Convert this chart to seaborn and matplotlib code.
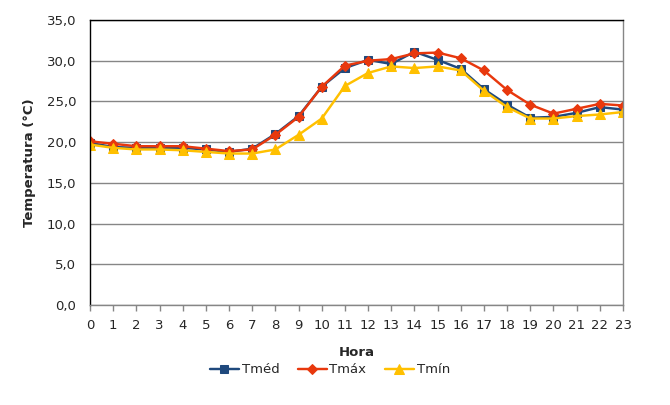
import matplotlib
matplotlib.use("Agg")
import matplotlib.pyplot as plt
import seaborn as sns
import pandas as pd

hours = list(range(24))
t_med = [19.9, 19.4, 19.3, 19.3, 19.3, 19.1, 18.8, 19.2, 21.0, 23.2, 26.8, 29.1,
         30.1, 29.6, 31.1, 30.1, 29.0, 26.5, 24.6, 23.0, 23.1, 23.6, 24.3, 24.0]
t_max = [20.1, 19.8, 19.5, 19.5, 19.5, 19.2, 18.9, 19.1, 20.9, 23.1, 26.8, 29.4,
         30.0, 30.2, 30.9, 31.0, 30.3, 28.8, 26.4, 24.6, 23.5, 24.1, 24.7, 24.5]
t_min = [19.7, 19.3, 19.1, 19.1, 19.0, 18.8, 18.6, 18.6, 19.1, 20.9, 22.9, 26.9,
         28.5, 29.3, 29.1, 29.3, 28.8, 26.3, 24.3, 22.9, 22.9, 23.2, 23.4, 23.7]

series = ["Tméd", "Tmáx", "Tmín"]
colors = ["#1F497D", "#E8380D", "#FFC000"]
markers = ["s", "D", "^"]
msizes = [5.5, 5.5, 7]

df = pd.DataFrame({"Hora": hours, "Tméd": t_med, "Tmáx": t_max, "Tmín": t_min})
long = df.melt(id_vars="Hora", var_name="serie", value_name="temp")

sns.set_style("white")
plt.rcParams["font.family"] = ["DejaVu Sans"]

fig = plt.figure(figsize=(6.7, 4.05), dpi=100)
ax = fig.add_axes([90 / 670, 1 - 305 / 405, (623 - 90) / 670, 285 / 405])

for name, c, m, ms in zip(series, colors, markers, msizes):
    sub = long[long.serie == name]
    sns.lineplot(data=sub, x="Hora", y="temp", ax=ax, color=c, marker=m,
                 markersize=ms, markeredgecolor=c, linewidth=1.75, label=name)

ax.set_xlim(0, 23)
ax.set_ylim(0, 35)
ax.set_xticks(hours)
ax.set_yticks(range(0, 36, 5))
ax.set_yticklabels([f"{v:.1f}".replace(".", ",") for v in range(0, 36, 5)])
ax.yaxis.grid(True, color="#868686", linewidth=1)
ax.set_axisbelow(True)
ax.tick_params(axis="x", direction="out", length=4, width=1, color="#868686",
               labelsize=9.5, pad=6, bottom=True)
ax.tick_params(axis="y", length=0, labelsize=9.5, pad=10)

ax.spines["left"].set_color("black")
ax.spines["top"].set_color("black")
ax.spines["bottom"].set_color("#868686")
ax.spines["right"].set_color("#868686")
for s in ax.spines.values():
    s.set_linewidth(1)

ax.set_xlabel("Hora", fontsize=9.5, fontweight="bold", labelpad=10)
ax.set_ylabel("Temperatura (°C)", fontsize=9.5, fontweight="bold", labelpad=8)

ax.legend(loc="center", bbox_to_anchor=(0.45, -0.228), ncol=3, frameon=False,
          fontsize=9.5, handlelength=2.2, columnspacing=1.4, handletextpad=0.2)

fig.savefig("out.png", dpi=100)
